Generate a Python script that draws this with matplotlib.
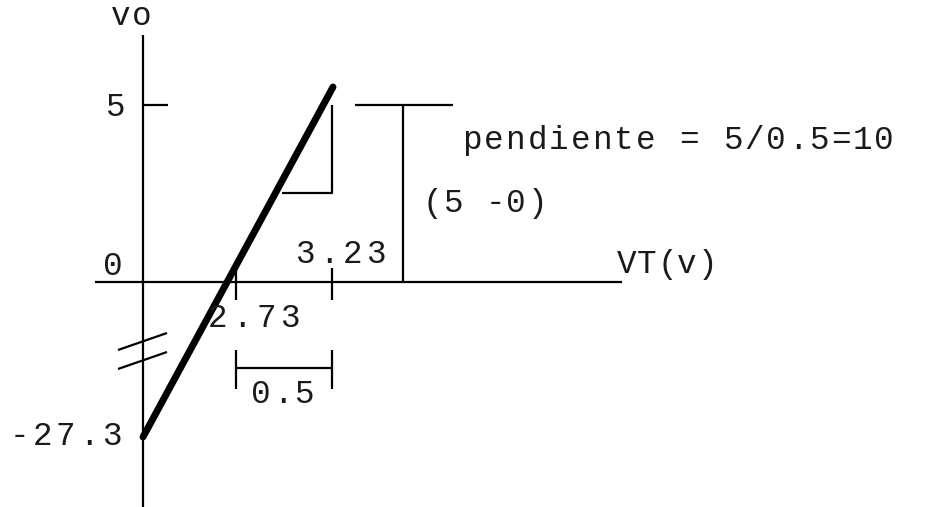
import matplotlib
matplotlib.use('Agg')
import matplotlib.pyplot as plt

# valores del diagrama
vt_cero = 2.73      # VT donde vo = 0
vt_cinco = 3.23     # VT donde vo = 5
vo_max = 5
vo_origen = -27.3   # vo cuando VT = 0
delta_vt = vt_cinco - vt_cero
pendiente = vo_max / delta_vt

etiquetas_x = ['%.2f' % vt_cero, '%.2f' % vt_cinco]
etiquetas_y = ['0', '%g' % vo_max, '%g' % vo_origen]
texto_pendiente = 'pendiente = %g/%g=%g' % (vo_max, delta_vt, pendiente)
texto_delta = '(%g -0)' % vo_max

# posiciones del esquema (pixeles del dibujo)
eje_y_px = 143
eje_x_px = 282
pos_vt = {vt_cero: 236, vt_cinco: 332}
pos_vo = {0: 282, vo_max: 105, vo_origen: 437}
punta_recta = (333, 87)

fig = plt.figure(figsize=(9.45, 5.07), dpi=100)
ax = fig.add_axes([0, 0, 1, 1])
ax.set_xlim(0, 945)
ax.set_ylim(507, 0)
ax.axis('off')

fuente = 'Liberation Mono'


def texto(s, x0, y, paso=22.5, size=23.5):
    # letra por letra, para imitar el espaciado de maquina de escribir
    for i, ch in enumerate(s):
        ax.text(x0 + i * paso, y, ch, ha='center', va='baseline',
                family=fuente, fontsize=size, color='#1a1a1a')


lw = 1.6
k = dict(color='black', lw=lw, solid_capstyle='butt')

# ejes
ax.plot([eje_y_px, eje_y_px], [35, 507], **k)
ax.plot([95, 622], [eje_x_px, eje_x_px], **k)

# marca en 5
ax.plot([eje_y_px, 168], [pos_vo[vo_max]] * 2, **k)

# recta gruesa
ax.plot([eje_y_px, punta_recta[0]], [pos_vo[vo_origen], punta_recta[1]],
        color='black', lw=5, solid_capstyle='round')

# triangulo de pendiente
ax.plot([282, pos_vt[vt_cinco], pos_vt[vt_cinco]], [193, 193, pos_vo[vo_max]], **k)

# cota vertical (5 - 0)
ax.plot([355, 453], [pos_vo[vo_max]] * 2, **k)
ax.plot([403, 403], [pos_vo[vo_max], eje_x_px], **k)

# marcas en el eje VT
ax.plot([pos_vt[vt_cero]] * 2, [262, 300], **k)
ax.plot([pos_vt[vt_cinco]] * 2, [268, 300], **k)

# cota horizontal 0.5
ax.plot([pos_vt[vt_cero], pos_vt[vt_cinco]], [368, 368], **k)
for xx in (pos_vt[vt_cero], pos_vt[vt_cinco]):
    ax.plot([xx, xx], [350, 389], **k)

# corte del eje
ax.plot([118, 167], [350, 333], **k)
ax.plot([118, 167], [369, 352], **k)

# textos
texto('vo', 121, 25, paso=21)
texto(etiquetas_y[1], 115, 116)
texto(etiquetas_y[0], 113, 275)
texto(etiquetas_y[2], 19, 445, paso=23.3)
texto(texto_pendiente, 472, 149, paso=21.7)
texto(texto_delta, 432, 212, paso=21)
texto('VT(v)', 627, 273, paso=20)
texto(etiquetas_x[1], 305, 263, paso=23.7)
texto(etiquetas_x[0], 218, 327, paso=24)
texto('%g' % delta_vt, 261, 403, paso=21.5)

fig.savefig('out.png', dpi=100, facecolor='white')
